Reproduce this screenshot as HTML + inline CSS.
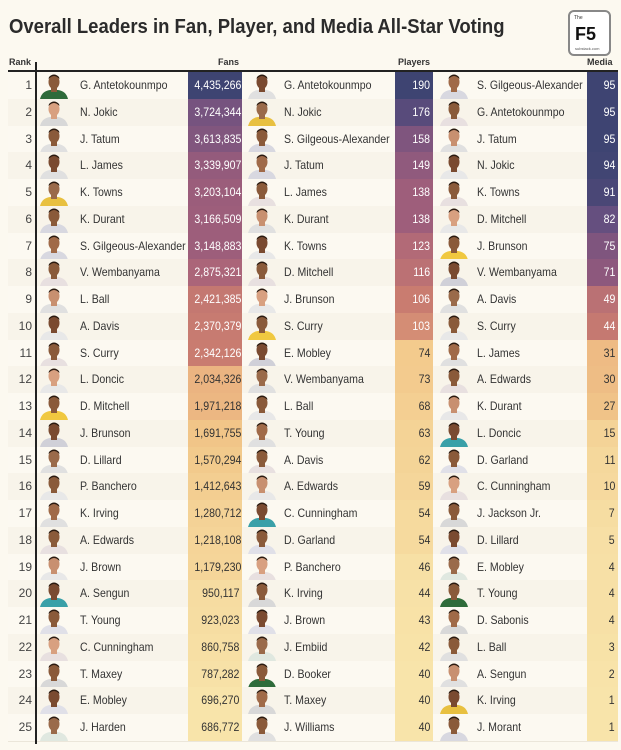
<!DOCTYPE html>
<html><head><meta charset="utf-8"><style>
body{margin:0;width:621px;height:750px;background:#fcf9f0;font-family:"Liberation Sans",sans-serif;position:relative;overflow:hidden;color:#333}
.t{position:absolute;left:9px;top:16px;font-size:20px;font-weight:bold;color:#2b2b2b;transform:scaleX(0.925);transform-origin:left;white-space:nowrap}
.logo{position:absolute;left:568px;top:10px;width:43px;height:46px;border:2px solid #888;border-radius:6px;box-sizing:border-box;background:#fff}
.logo b{position:absolute;left:5px;top:12px;font-size:18px;color:#111}
.logo i{position:absolute;left:4px;top:3px;font-size:5px;font-style:normal}
.logo s{position:absolute;left:5px;top:34px;font-size:4px;text-decoration:none;color:#555}
.h{position:absolute;top:57px;font-size:9px;font-weight:bold;color:#333}
.row{position:absolute;left:8px;width:610px;height:27px;border-bottom:1px solid #ebe6da}
.c{position:absolute;font-size:12px;top:0;height:26.8px;line-height:26.8px;white-space:nowrap;transform:scaleX(0.88);transform-origin:left}
.v{position:absolute;top:0;height:26.8px;line-height:26.8px;text-align:right;font-size:12px;box-sizing:border-box;padding-right:3px;white-space:nowrap}
.v span{display:inline-block;transform:scaleX(0.88);transform-origin:right}
</style></head><body>
<div class="t">Overall Leaders in Fan, Player, and Media All-Star Voting</div>
<div class="logo"><i>The</i><b>F5</b><s>substack.com</s></div>
<div class="h" style="left:9px">Rank</div>
<div class="h" style="left:218px">Fans</div>
<div class="h" style="left:398px">Players</div>
<div class="h" style="left:587px">Media</div>
<div id="rows"></div>
<div style="position:absolute;left:8px;top:70px;width:610px;height:2px;background:#222"></div>
<div style="position:absolute;left:35px;top:62px;width:2px;height:682px;background:#222;z-index:5"></div>
<script>
const F=[["G. Antetokounmpo",4435266],["N. Jokic",3724344],["J. Tatum",3613835],["L. James",3339907],["K. Towns",3203104],["K. Durant",3166509],["S. Gilgeous-Alexander",3148883],["V. Wembanyama",2875321],["L. Ball",2421385],["A. Davis",2370379],["S. Curry",2342126],["L. Doncic",2034326],["D. Mitchell",1971218],["J. Brunson",1691755],["D. Lillard",1570294],["P. Banchero",1412643],["K. Irving",1280712],["A. Edwards",1218108],["J. Brown",1179230],["A. Sengun",950117],["T. Young",923023],["C. Cunningham",860758],["T. Maxey",787282],["E. Mobley",696270],["J. Harden",686772]];
const P=[["G. Antetokounmpo",190],["N. Jokic",176],["S. Gilgeous-Alexander",158],["J. Tatum",149],["L. James",138],["K. Durant",138],["K. Towns",123],["D. Mitchell",116],["J. Brunson",106],["S. Curry",103],["E. Mobley",74],["V. Wembanyama",73],["L. Ball",68],["T. Young",63],["A. Davis",62],["A. Edwards",59],["C. Cunningham",54],["D. Garland",54],["P. Banchero",46],["K. Irving",44],["J. Brown",43],["J. Embiid",42],["D. Booker",40],["T. Maxey",40],["J. Williams",40]];
const M=[["S. Gilgeous-Alexander",95],["G. Antetokounmpo",95],["J. Tatum",95],["N. Jokic",94],["K. Towns",91],["D. Mitchell",82],["J. Brunson",75],["V. Wembanyama",71],["A. Davis",49],["S. Curry",44],["L. James",31],["A. Edwards",30],["K. Durant",27],["L. Doncic",15],["D. Garland",11],["C. Cunningham",10],["J. Jackson Jr.",7],["D. Lillard",5],["E. Mobley",4],["T. Young",4],["D. Sabonis",4],["L. Ball",3],["A. Sengun",2],["K. Irving",1],["J. Morant",1]];
const S=[[0,[248,228,170]],[0.25,[242,200,138]],[0.38,[234,176,127]],[0.44,[201,124,112]],[0.6,[168,98,122]],[0.75,[140,88,125]],[0.85,[104,80,128]],[1,[62,68,114]]];
function col(t){for(let i=1;i<S.length;i++){if(t<=S[i][0]){const a=S[i-1],b=S[i],f=(t-a[0])/(b[0]-a[0]);return 'rgb('+a[1].map((x,k)=>Math.round(x+(b[1][k]-x)*f)).join(',')+')';}}return 'rgb(62,68,114)';}
const jer=['#2e6b3a','#e8e8e8','#e8e8e8','#e8c040','#d8d8d8','#e8e8e8','#e0e0e0','#d8d8d8','#3aa0a8','#f0c840','#d8d8e0','#e0e0e8','#e0e0e0','#e8e8e8','#e0e0e0','#e0e0e8','#d0d0d8','#d8d8e0','#e0e8e0','#e8e0e0','#e8e0e0','#e0e0e0','#e8e0e0','#e0e0e0','#e8e0e0'];
const skin=['#8a5a3a','#d8a080','#8a5a3a','#7a4a30','#9a6a4a','#8a5a3a','#a06a48','#8a5a3a','#c89070','#7a4a30'];
function face(x,i){const s=skin[i%10],j=jer[(i*7)%25];return `<svg style="position:absolute;left:${x}px;top:1px" width="32" height="26"><path d="M2 26 Q4 18 12 17 L20 17 Q28 18 30 26Z" fill="${j}"/><rect x="13" y="13" width="6" height="6" fill="${s}"/><ellipse cx="16" cy="9" rx="5.5" ry="7" fill="${s}"/><path d="M10.5 6 Q16 0 21.5 6 L21 4 Q16 -1 11 4Z" fill="#2a1a10"/></svg>`;}
let h='';
const tF=v=>(v-686772)/(4435266-686772),tP=v=>(v-40)/150,tM=v=>(v-1)/94;
for(let i=0;i<25;i++){const y=72+i*26.75;
const a=tF(F[i][1]),b=tP(P[i][1]),c=tM(M[i][1]);
const bg=i%2?'#f8f4ea':'#fcf9f1';
h+=`<div class="row" style="top:${y}px;background:${bg}">
<div class="c" style="left:0;width:24px;text-align:right;color:#444;transform:none">${i+1}</div>
${face(30,i)}<div class="c" style="left:72px">${F[i][0]}</div>
<div class="v" style="left:180px;width:54px;background:${col(a)};color:${a>0.4?'#fff':'#333'}"><span>${F[i][1].toLocaleString('en-US')}</span></div>
${face(238,i+3)}<div class="c" style="left:276px">${P[i][0]}</div>
<div class="v" style="left:387px;width:38px;background:${col(b)};color:${b>0.4?'#fff':'#333'}"><span>${P[i][1]}</span></div>
${face(430,i+6)}<div class="c" style="left:469px">${M[i][0]}</div>
<div class="v" style="left:579px;width:31px;background:${col(c)};color:${c>0.4?'#fff':'#333'}"><span>${M[i][1]}</span></div>
</div>`;}
document.getElementById('rows').innerHTML=h;
</script>
</body></html>
